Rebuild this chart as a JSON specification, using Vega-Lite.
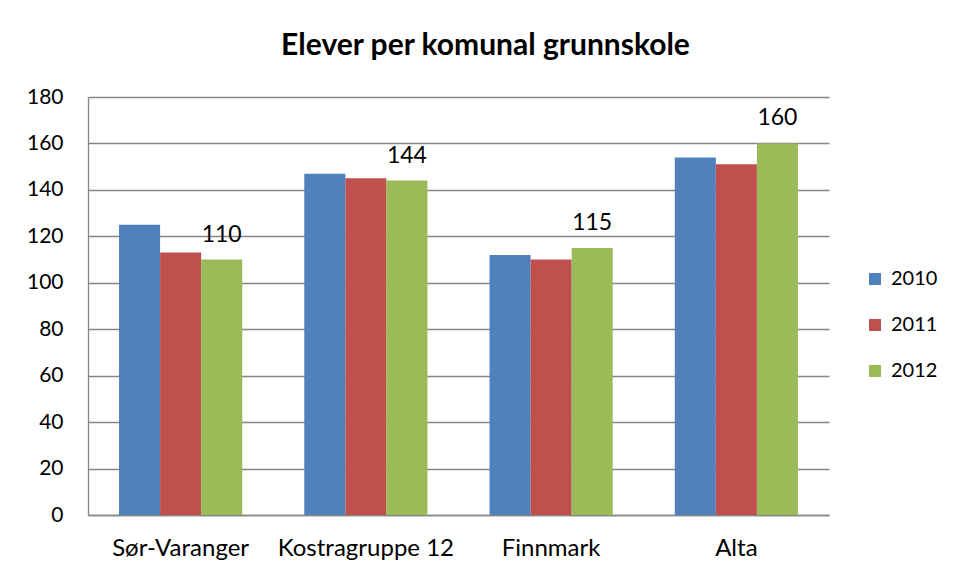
{
  "$schema": "https://vega.github.io/schema/vega-lite/v6.json",
  "width": 741,
  "height": 418,
  "autosize": {"type": "none"},
  "padding": {"left": 88, "top": 97, "right": 126, "bottom": 62},
  "background": "white",
  "title": {
    "text": "Elever per komunal grunnskole",
    "font": "Lato",
    "fontSize": 30,
    "fontWeight": "bold",
    "color": "black",
    "anchor": "middle",
    "dx": 27,
    "offset": 25
  },
  "data": {
    "values": [
      {"region": "Sør-Varanger", "year": "2010", "value": 125},
      {"region": "Sør-Varanger", "year": "2011", "value": 113},
      {"region": "Sør-Varanger", "year": "2012", "value": 110},
      {"region": "Kostragruppe 12", "year": "2010", "value": 147},
      {"region": "Kostragruppe 12", "year": "2011", "value": 145},
      {"region": "Kostragruppe 12", "year": "2012", "value": 144},
      {"region": "Finnmark", "year": "2010", "value": 112},
      {"region": "Finnmark", "year": "2011", "value": 110},
      {"region": "Finnmark", "year": "2012", "value": 115},
      {"region": "Alta", "year": "2010", "value": 154},
      {"region": "Alta", "year": "2011", "value": 151},
      {"region": "Alta", "year": "2012", "value": 160}
    ]
  },
  "encoding": {
    "x": {
      "field": "region",
      "type": "nominal",
      "sort": ["Sør-Varanger", "Kostragruppe 12", "Finnmark", "Alta"],
      "scale": {"paddingInner": 0.335, "paddingOuter": 0.1675},
      "axis": {
        "title": null,
        "labelAngle": 0,
        "labelFont": "Lato",
        "labelFontSize": 24,
        "labelColor": "black",
        "labelPadding": 21,
        "labelLimit": 300,
        "ticks": false,
        "domainColor": "#868686",
        "domainWidth": 1.3
      }
    },
    "xOffset": {"field": "year", "type": "nominal"},
    "y": {
      "field": "value",
      "type": "quantitative",
      "scale": {"domain": [0, 180]},
      "axis": {
        "title": null,
        "values": [0, 20, 40, 60, 80, 100, 120, 140, 160, 180],
        "labelFont": "Lato",
        "labelFontSize": 21,
        "labelColor": "black",
        "labelPadding": 25,
        "ticks": false,
        "domainColor": "#868686",
        "domainWidth": 1.3,
        "gridColor": "#868686",
        "gridWidth": 1.3
      }
    }
  },
  "layer": [
    {
      "mark": {"type": "bar"},
      "encoding": {
        "color": {
          "field": "year",
          "type": "nominal",
          "scale": {"domain": ["2010", "2011", "2012"], "range": ["#4F81BD", "#C0504D", "#9BBB59"]},
          "legend": {
            "title": null,
            "orient": "none",
            "legendX": 777,
            "legendY": 172,
            "symbolType": "square",
            "symbolSize": 144,
            "symbolStrokeWidth": 0,
            "labelFont": "Lato",
            "labelFontSize": 20,
            "labelColor": "black",
            "rowPadding": 26,
            "labelOffset": 6
          }
        }
      }
    },
    {
      "transform": [{"filter": "datum.year == '2012'"}],
      "mark": {"type": "text", "baseline": "alphabetic", "dy": -18, "font": "Lato", "fontSize": 23, "color": "black"},
      "encoding": {"text": {"field": "value", "type": "quantitative"}}
    }
  ],
  "config": {"view": {"stroke": null}}
}
